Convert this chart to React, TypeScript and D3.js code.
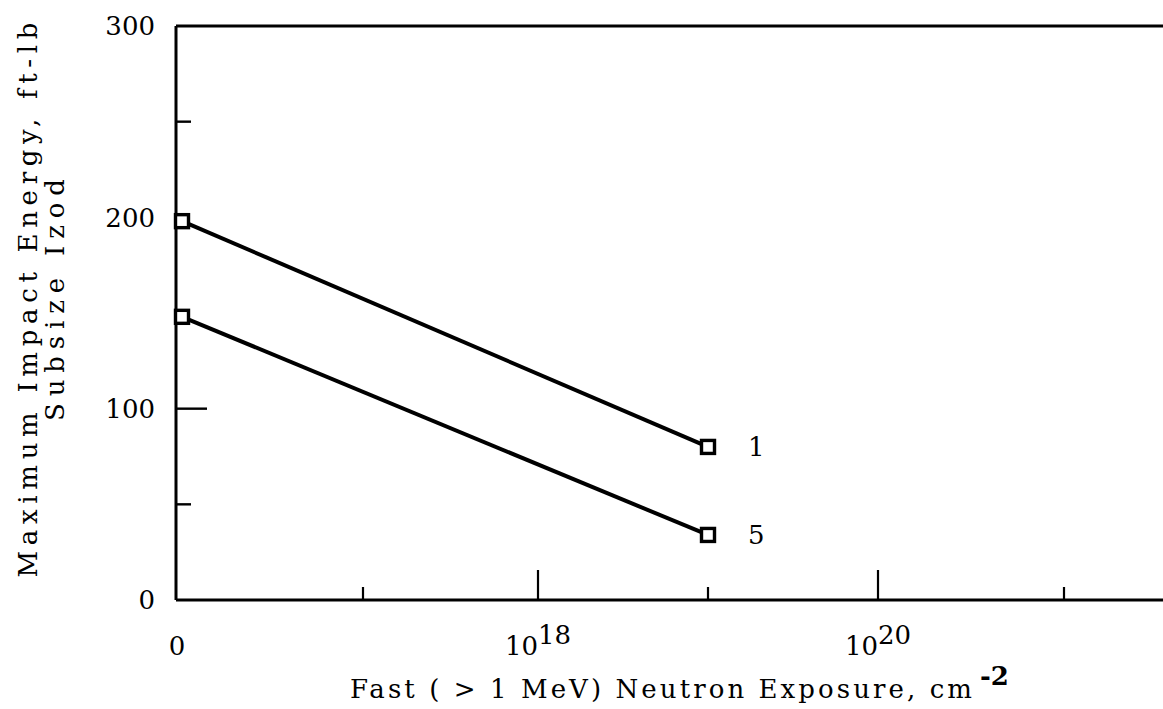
import React from "react";
import * as d3 from "d3";

// exposure (n/cm^2) — 0 sits on the left axis
const exposure = [0, 1e19];
const curve1 = [198, 80];
const curve5 = [148, 34];
const seriesNames = ["1", "5"];

const yLabelTicks = [0, 100, 200, 300];
const yMinorTicks = [50, 250];
const yMajorTicks = [100];
const xMajorTicks = [1e18, 1e20];
const xMinorTicks = [1e17, 1e19, 1e21];
const xTickLabels = [
  { v: 1e18, base: "10", exp: "18" },
  { v: 1e20, base: "10", exp: "20" },
];

const W = 1163;
const H = 709;
const left = 176;
const top = 26;
const bottom = 600;
const right = W;
const font = "'DejaVu Serif', serif";
const fs = 26;

export default function App() {
  const y = d3.scaleLinear().domain([0, 300]).range([bottom, top]);
  const x = d3
    .scaleLog()
    .domain([1e17, 1e18, 1e19, 1e20, 1e21])
    .range([363, 538, 708, 878, 1064]);
  const xPos = (v: number) => (v === 0 ? left + 6 : x(v));

  const line = d3
    .line<number>()
    .x((_, i) => xPos(exposure[i]))
    .y((d) => y(d));

  const series = [curve1, curve5];

  return (
    <svg
      width={W}
      height={H}
      style={{ position: "absolute", left: 0, top: 0, background: "#fff" }}
      fontFamily={font}
    >
      {/* frame */}
      <g stroke="#000" strokeWidth={3} fill="none">
        <line x1={left} x2={right} y1={top} y2={top} />
        <line x1={left} x2={right} y1={bottom} y2={bottom} />
        <line x1={left} x2={left} y1={top} y2={bottom} />
      </g>
      {/* y ticks */}
      <g stroke="#000" strokeWidth={2.4}>
        {yMajorTicks.map((t) => (
          <line key={"ym" + t} x1={left} x2={left + 31} y1={y(t)} y2={y(t)} />
        ))}
        {yMinorTicks.map((t) => (
          <line key={"yn" + t} x1={left} x2={left + 15} y1={y(t)} y2={y(t)} />
        ))}
      </g>
      {/* x ticks */}
      <g stroke="#000" strokeWidth={2.2}>
        {xMajorTicks.map((t) => (
          <line key={"xm" + t} x1={x(t)} x2={x(t)} y1={bottom} y2={bottom - 30} />
        ))}
        {xMinorTicks.map((t) => (
          <line key={"xn" + t} x1={x(t)} x2={x(t)} y1={bottom} y2={bottom - 13} />
        ))}
      </g>
      {/* y tick labels */}
      <g fontSize={fs} textAnchor="end">
        {yLabelTicks.map((t) => (
          <text key={t} x={155} y={y(t)} dy="0.36em">
            {t}
          </text>
        ))}
      </g>
      {/* x tick labels */}
      <g fontSize={fs}>
        <text x={left + 1} y={655} textAnchor="middle">
          0
        </text>
        {xTickLabels.map((d) => (
          <text key={d.exp} x={x(d.v)} y={655} textAnchor="middle">
            {d.base}
            <tspan dy={-11}>{d.exp}</tspan>
          </text>
        ))}
      </g>
      {/* curves */}
      {series.map((s, k) => (
        <g key={k}>
          <path d={line(s) ?? ""} fill="none" stroke="#000" strokeWidth={4} />
          {s.map((v, i) => (
            <rect
              key={i}
              x={xPos(exposure[i]) - 6.5}
              y={y(v) - 6.5}
              width={13}
              height={13}
              fill="#fff"
              stroke="#000"
              strokeWidth={3.4}
            />
          ))}
          <text
            x={xPos(exposure[exposure.length - 1]) + 40}
            y={y(s[s.length - 1])}
            dy="0.36em"
            fontSize={fs}
          >
            {seriesNames[k]}
          </text>
        </g>
      ))}
      {/* axis titles */}
      <text
        x={350}
        y={698}
        fontSize={fs}
        textLength={622}
        lengthAdjust="spacing"
      >
        Fast ( {"\u003E"} 1 MeV) Neutron Exposure, cm
      </text>
      <text x={980} y={685} fontSize={fs} fontWeight="bold">
        -2
      </text>
      <g transform="translate(0,300) rotate(-90)" fontSize={fs} textAnchor="middle">
        <text x={0} y={37} textLength={555} lengthAdjust="spacing">
          Maximum Impact Energy, ft-lb
        </text>
        <text x={0} y={64} textLength={242} lengthAdjust="spacing">
          Subsize Izod
        </text>
      </g>
    </svg>
  );
}
